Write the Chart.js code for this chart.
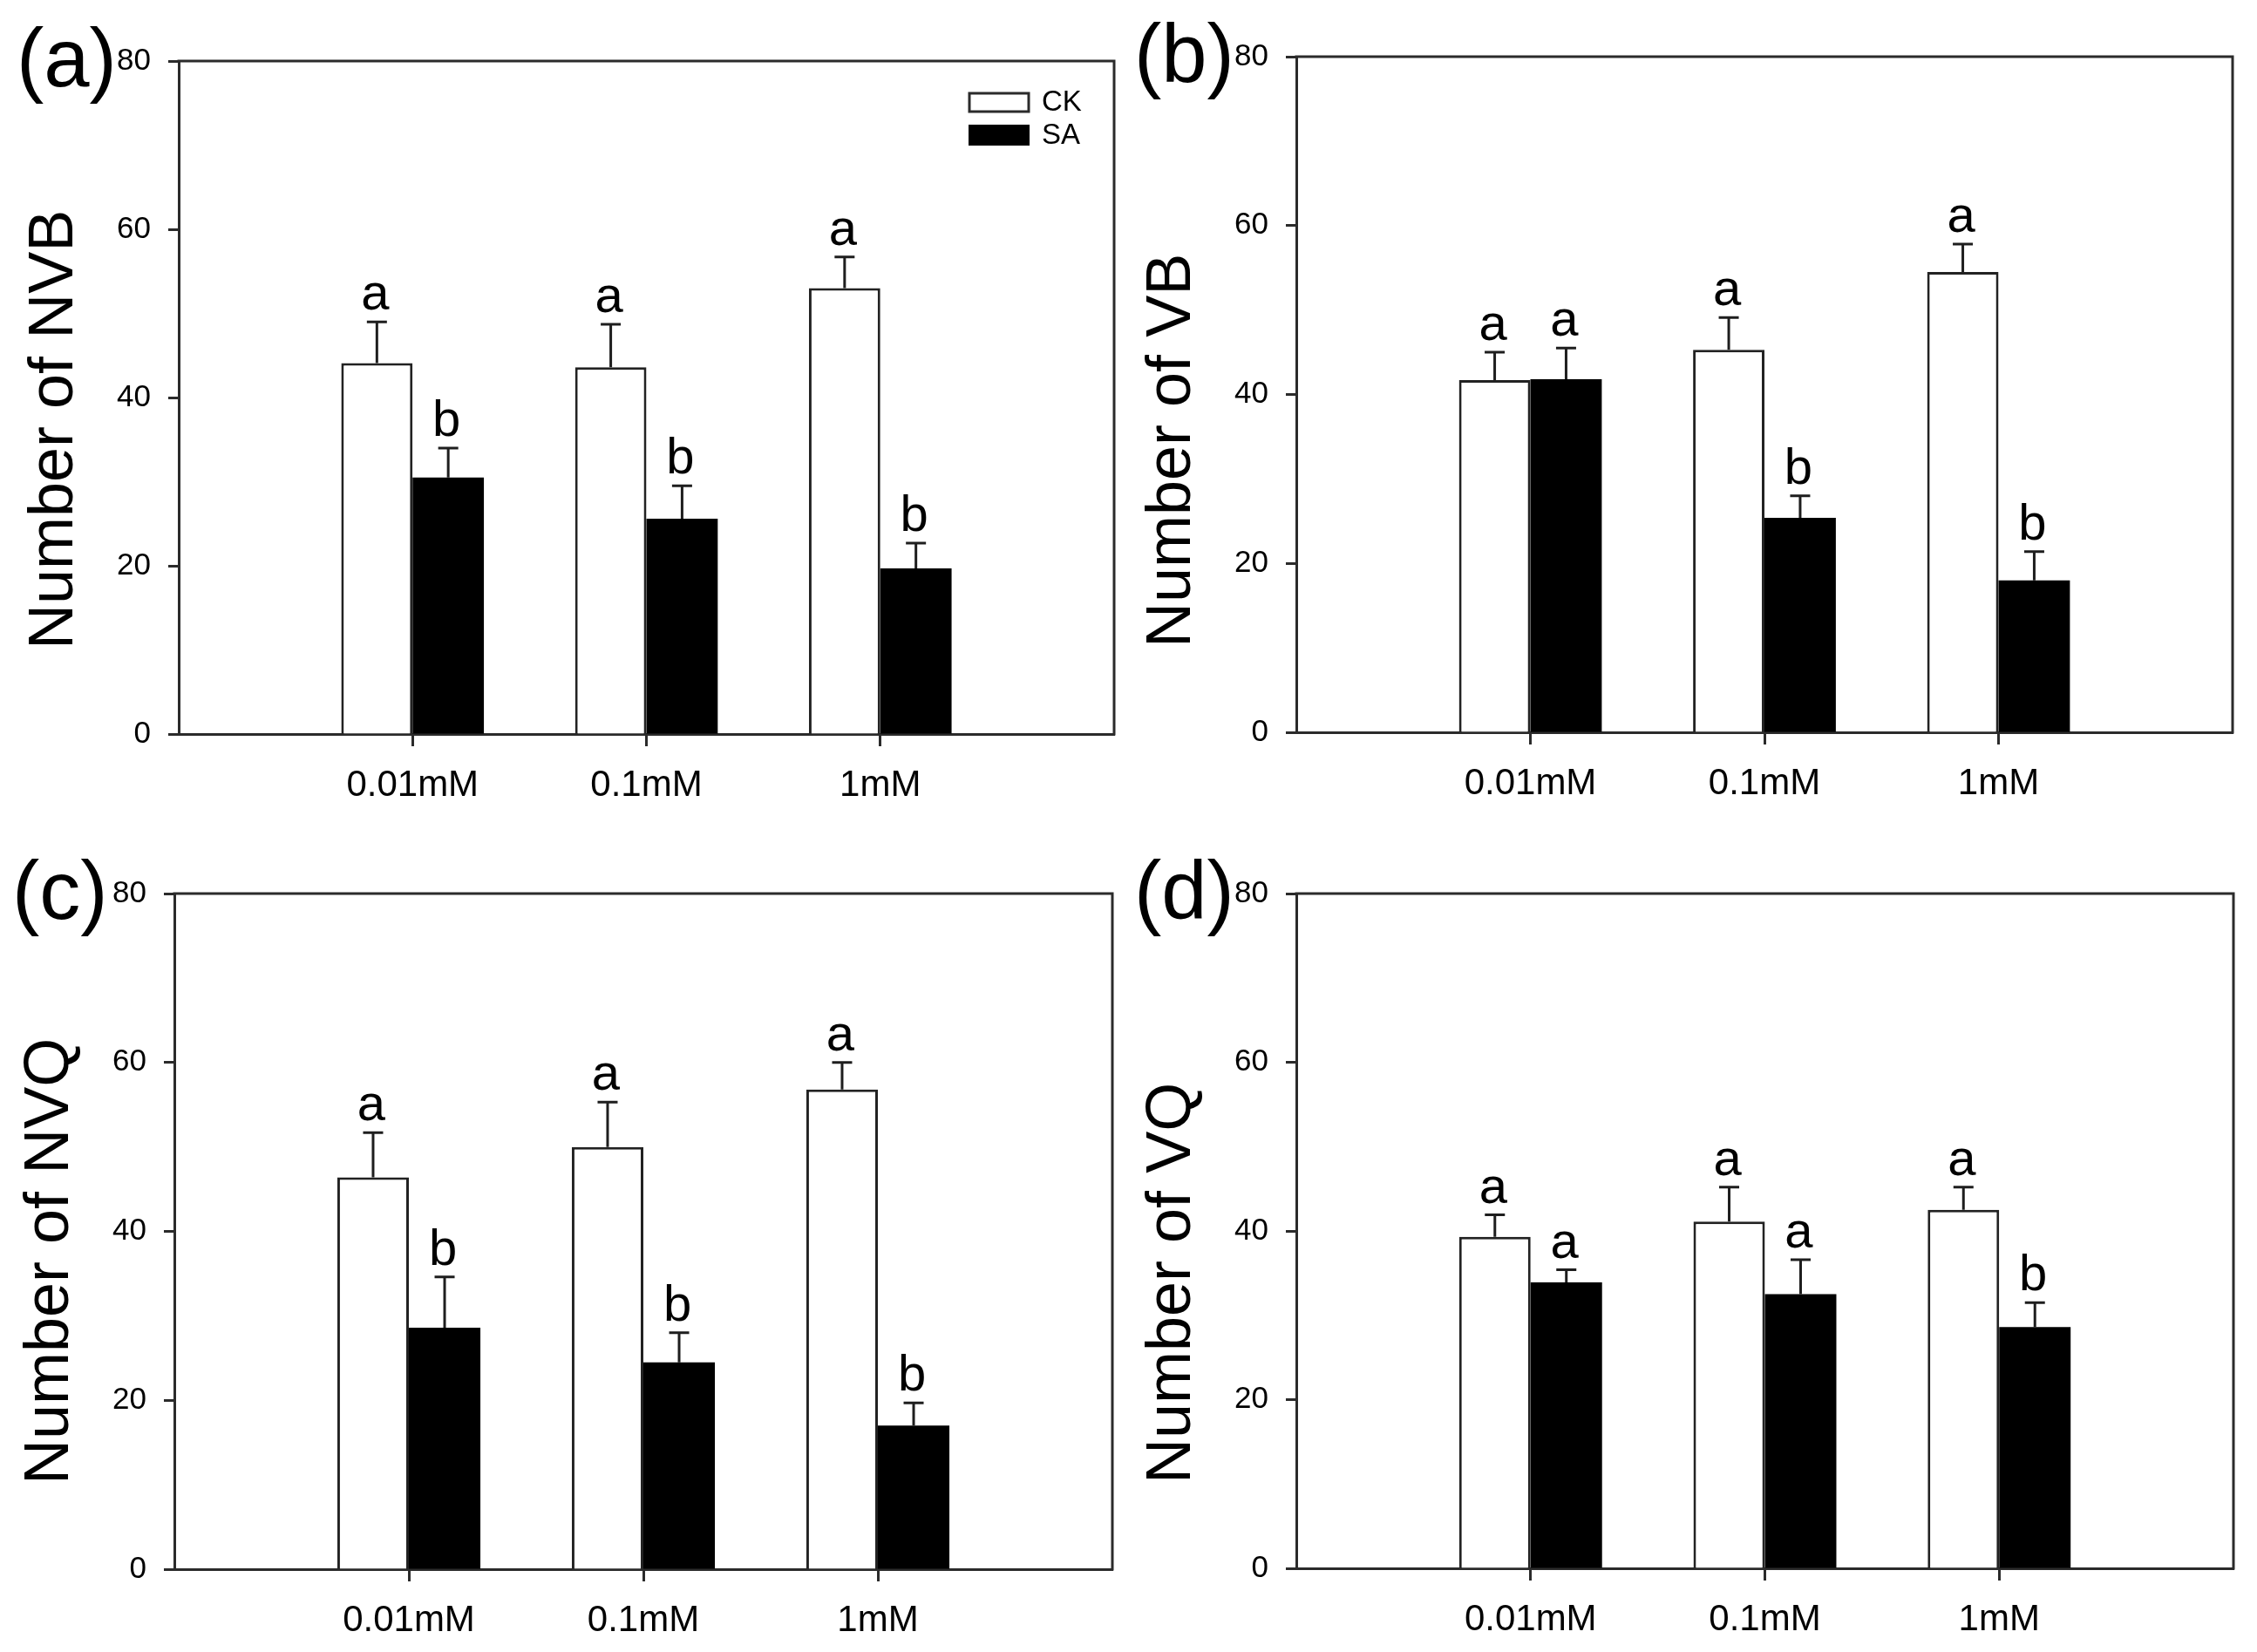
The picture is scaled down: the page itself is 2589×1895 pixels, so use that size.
<!DOCTYPE html>
<html><head><meta charset="utf-8">
<script src="https://cdn.jsdelivr.net/npm/chart.js@4.4.1/dist/chart.umd.min.js"></script>
<style>
html,body{margin:0;padding:0;background:#fff;}
body{width:2589px;height:1895px;overflow:hidden;position:relative;}
canvas{position:absolute;}
</style></head><body>
<canvas id="pa"></canvas>
<canvas id="pb"></canvas>
<canvas id="pc"></canvas>
<canvas id="pd"></canvas>
<script>
// ---------- DATA ----------
const categories = ['', '0.01mM', '0.1mM', '1mM', ''];
const seriesNames = ['CK', 'SA'];
const yTicks = [0, 20, 40, 60, 80];

// (a) Number of NVB
const nvbCK     = [null, 44.1, 43.6, 53.0, null];
const nvbCKErr  = [null, 4.9, 5.1, 3.7, null];
const nvbSA     = [null, 30.5, 25.6, 19.7, null];
const nvbSAErr  = [null, 3.5, 3.9, 3.0, null];
const nvbCKLet  = [null, 'a', 'a', 'a', null];
const nvbSALet  = [null, 'b', 'b', 'b', null];

// (b) Number of VB
const vbCK      = [null, 41.7, 45.3, 54.5, null];
const vbCKErr   = [null, 3.3, 3.8, 3.3, null];
const vbSA      = [null, 41.8, 25.4, 18.0, null];
const vbSAErr   = [null, 3.7, 2.6, 3.4, null];
const vbCKLet   = [null, 'a', 'a', 'a', null];
const vbSALet   = [null, 'a', 'b', 'b', null];

// (c) Number of NVQ
const nvqCK     = [null, 46.4, 50.0, 56.8, null];
const nvqCKErr  = [null, 5.3, 5.3, 3.2, null];
const nvqSA     = [null, 28.6, 24.5, 17.0, null];
const nvqSAErr  = [null, 6.0, 3.5, 2.7, null];
const nvqCKLet  = [null, 'a', 'a', 'a', null];
const nvqSALet  = [null, 'b', 'b', 'b', null];

// (d) Number of VQ
const vqCK      = [null, 39.3, 41.1, 42.5, null];
const vqCKErr   = [null, 2.6, 4.1, 2.7, null];
const vqSA      = [null, 33.9, 32.5, 28.6, null];
const vqSAErr   = [null, 1.5, 4.1, 2.9, null];
const vqCKLet   = [null, 'a', 'a', 'a', null];
const vqSALet   = [null, 'a', 'a', 'b', null];

const panelLabels = ['(a)', '(b)', '(c)', '(d)'];
const yTitles = ['Number of NVB', 'Number of VB', 'Number of NVQ', 'Number of VQ'];

// ---------- STYLE / LAYOUT ----------
const FONT = "'Liberation Sans', Arial, Helvetica, sans-serif";
const AX = '#2b2b2b';
const PADT = 65, PADR = 25, YW = 200, XH = 130;
// plot-area rectangles (page px)
const boxes = [
  {L: 205, T: 70,   W: 1073, H: 772},
  {L: 1487, T: 65,  W: 1074, H: 775},
  {L: 200, T: 1025, W: 1076, H: 775},
  {L: 1487, T: 1025, W: 1075, H: 774}
];

const framePlugin = {
  id: 'frame',
  afterDraw(chart) {
    const {ctx, chartArea: a} = chart;
    ctx.save();
    ctx.strokeStyle = AX; ctx.lineWidth = 3; ctx.lineCap = 'square';
    ctx.beginPath();
    ctx.moveTo(a.left, a.top); ctx.lineTo(a.right, a.top); ctx.lineTo(a.right, a.bottom);
    ctx.stroke();
    ctx.restore();
  }
};

const errPlugin = {
  id: 'errbars',
  afterDatasetsDraw(chart) {
    const {ctx} = chart;
    const ys = chart.scales.y;
    ctx.save();
    chart.data.datasets.forEach((ds, i) => {
      const meta = chart.getDatasetMeta(i);
      meta.data.forEach((bar, j) => {
        const v = ds.data[j];
        if (v === null || v === undefined) return;
        const e = ds.errors[j];
        const yTop = ys.getPixelForValue(v);
        const yErr = ys.getPixelForValue(v + e);
        ctx.strokeStyle = '#1e1e1e'; ctx.lineWidth = 3;
        ctx.beginPath();
        ctx.moveTo(bar.x, yTop); ctx.lineTo(bar.x, yErr);
        ctx.moveTo(bar.x - 11.5, yErr); ctx.lineTo(bar.x + 11.5, yErr);
        ctx.stroke();
        const lt = ds.letters[j];
        if (lt) {
          ctx.fillStyle = '#000';
          ctx.font = '58px ' + FONT;
          ctx.textAlign = 'center'; ctx.textBaseline = 'alphabetic';
          ctx.fillText(lt, bar.x - 2, yErr - 14);
        }
      });
    });
    ctx.restore();
  }
};

const labelPlugin = {
  id: 'panelLabel',
  afterDraw(chart, args, opts) {
    const {ctx, chartArea: a} = chart;
    ctx.save();
    ctx.fillStyle = '#000';
    ctx.font = '94px ' + FONT;
    ctx.textAlign = 'left'; ctx.textBaseline = 'alphabetic';
    ctx.fillText(opts.text, a.left - 186, a.top + 29);
    // y-axis title, bottom-anchored
    ctx.save();
    ctx.translate(a.left - 142, a.bottom - 97);
    ctx.rotate(-Math.PI / 2);
    ctx.font = '72px ' + FONT;
    ctx.textAlign = 'left'; ctx.textBaseline = 'middle';
    ctx.fillText(opts.title, 0, 0);
    ctx.restore();
    if (opts.legend) {
      const ds = chart.data.datasets;
      const x = a.right - 166;
      ctx.fillStyle = ds[0].backgroundColor; ctx.strokeStyle = AX; ctx.lineWidth = 3;
      ctx.fillRect(x, a.top + 37, 68, 21);
      ctx.strokeRect(x, a.top + 37, 68, 21);
      ctx.fillStyle = ds[1].backgroundColor;
      ctx.fillRect(x - 1, a.top + 73, 70, 24);
      ctx.fillStyle = '#000';
      ctx.font = '33px ' + FONT;
      ctx.textBaseline = 'middle';
      ctx.fillText(ds[0].label, a.right - 83, a.top + 48);
      ctx.fillText(ds[1].label, a.right - 83, a.top + 86);
    }
    ctx.restore();
  }
};

function makeChart(id, idx, ck, ckErr, ckLet, sa, saErr, saLet, legend) {
  const b = boxes[idx];
  const cv = document.getElementById(id);
  const w = b.W + YW + PADR, h = b.H + PADT + XH;
  cv.width = w; cv.height = h;
  cv.style.width = w + 'px'; cv.style.height = h + 'px';
  cv.style.left = (b.L - YW) + 'px'; cv.style.top = (b.T - PADT) + 'px';
  return new Chart(cv, {
    type: 'bar',
    data: {
      labels: categories,
      datasets: [
        {label: seriesNames[0], data: ck, errors: ckErr, letters: ckLet,
         backgroundColor: '#ffffff', borderColor: '#222', borderWidth: 3,
         categoryPercentage: 0.61, barPercentage: 1.0},
        {label: seriesNames[1], data: sa, errors: saErr, letters: saLet,
         backgroundColor: '#000000', borderColor: '#000', borderWidth: 0,
         categoryPercentage: 0.61, barPercentage: 1.0}
      ]
    },
    options: {
      responsive: false, maintainAspectRatio: false, animation: false,
      devicePixelRatio: 1, events: [],
      layout: {padding: {left: 0, top: PADT, right: PADR, bottom: 0}},
      plugins: {
        legend: {display: false}, tooltip: {enabled: false},
        panelLabel: {text: panelLabels[idx], title: yTitles[idx], legend: legend}
      },
      scales: {
        x: {
          offset: false,
          grid: {offset: false, drawOnChartArea: false, tickLength: 14, tickWidth: 3,
                 tickColor: c => (c.index === 0 || c.index === categories.length - 1) ? 'rgba(0,0,0,0)' : AX},
          border: {color: AX, width: 3},
          ticks: {font: {family: FONT, size: 42}, color: '#000', padding: 20,
                  autoSkip: false, maxRotation: 0, minRotation: 0},
          afterFit: s => { s.height = XH; }
        },
        y: {
          min: 0, max: 80,
          afterBuildTicks: s => { s.ticks = yTicks.map(v => ({value: v})); },
          grid: {drawOnChartArea: false, tickLength: 12, tickWidth: 3, tickColor: AX},
          border: {color: AX, width: 3},
          ticks: {font: {family: FONT, size: 35}, color: '#000', padding: 20},
          title: {display: false},
          afterFit: s => { s.width = YW; }
        }
      }
    },
    plugins: [framePlugin, errPlugin, labelPlugin]
  });
}

makeChart('pa', 0, nvbCK, nvbCKErr, nvbCKLet, nvbSA, nvbSAErr, nvbSALet, true);
makeChart('pb', 1, vbCK, vbCKErr, vbCKLet, vbSA, vbSAErr, vbSALet, false);
makeChart('pc', 2, nvqCK, nvqCKErr, nvqCKLet, nvqSA, nvqSAErr, nvqSALet, false);
makeChart('pd', 3, vqCK, vqCKErr, vqCKLet, vqSA, vqSAErr, vqSALet, false);
</script>
</body></html>
